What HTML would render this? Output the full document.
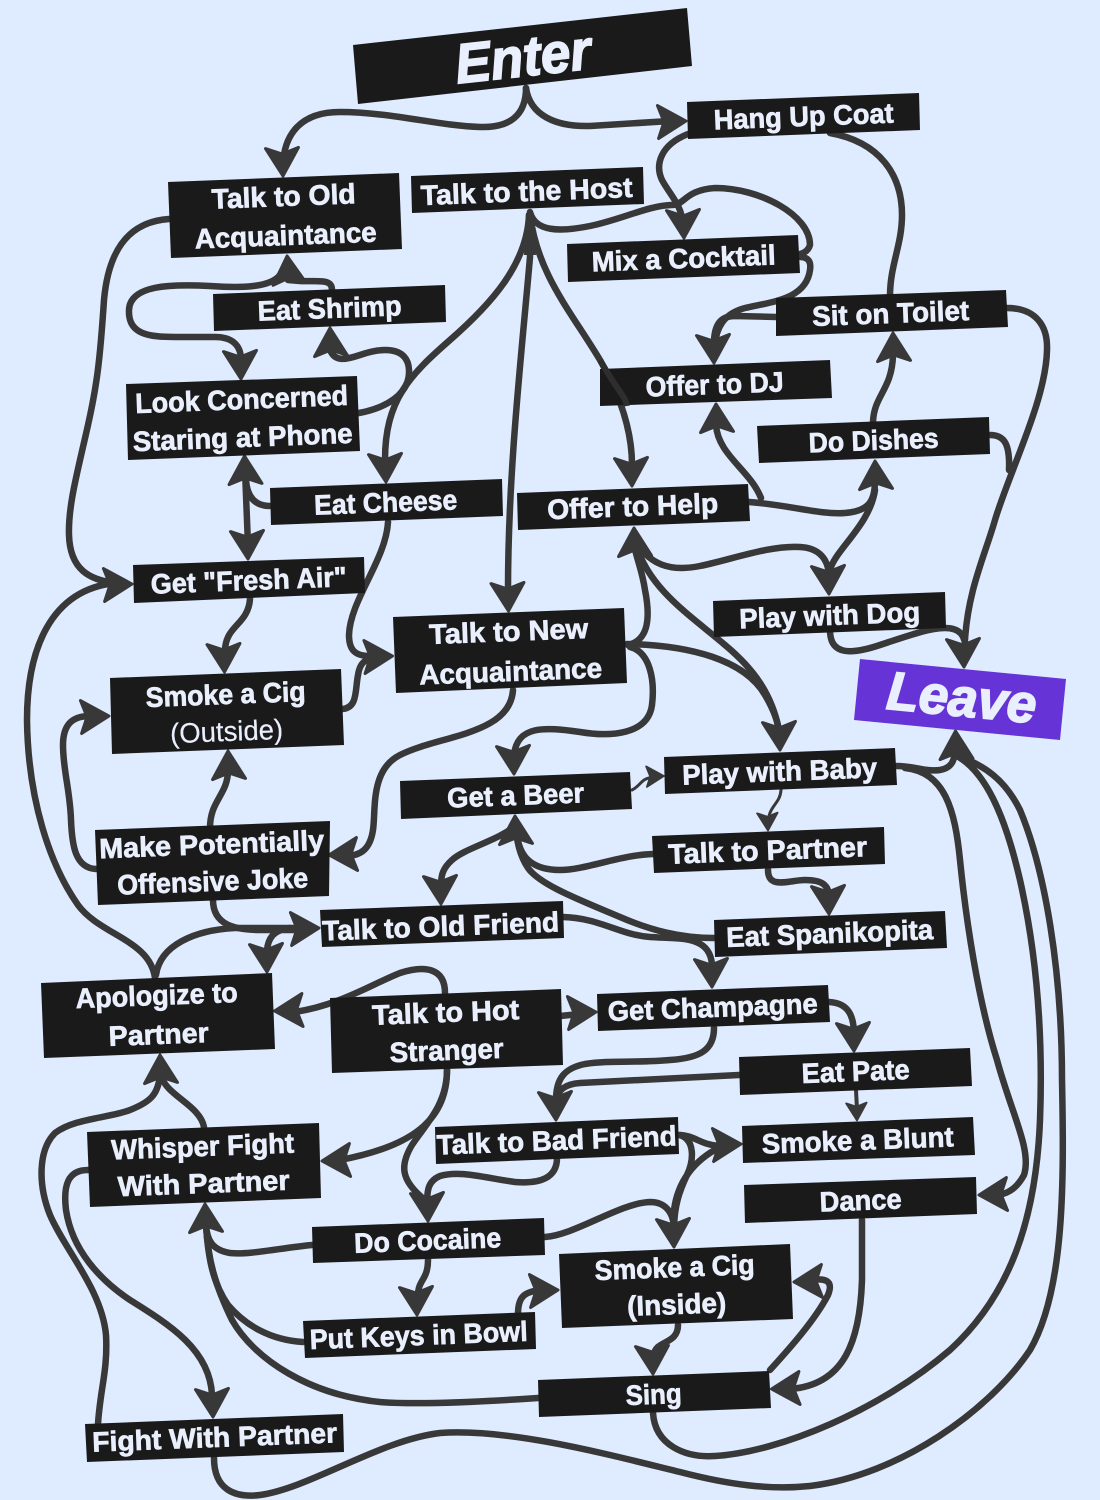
<!DOCTYPE html>
<html>
<head>
<meta charset="utf-8">
<title>Party flowchart</title>
<style>
html,body{margin:0;padding:0;background:#dfebff;}
svg{display:block;}
.e path{fill:none;stroke:#383838;stroke-width:6.5;stroke-linecap:round;stroke-linejoin:round;}
.e path.t{stroke-width:3;}
.h use{fill:#383838;stroke:#383838;stroke-width:3;stroke-linejoin:round;}
.b polygon{fill:#1a1a1a;}
.l text{font-family:"Liberation Sans",sans-serif;font-weight:700;font-size:28px;fill:#e9effc;stroke:#e9effc;stroke-width:.7px;text-anchor:middle;}
</style>
</head>
<body>
<svg xmlns="http://www.w3.org/2000/svg" width="1100" height="1500" viewBox="0 0 1100 1500">
<defs><polygon id="a" points="0,-1 -16.500,-29 0,-23 16.500,-29"/></defs>
<rect width="1100" height="1500" fill="#dfebff"/>

<g class="e">
<path d="M526 88C526 115 510 128 480 127C440 126 390 112 340 112C300 112 284 135 283 165"/>
<path d="M526 88C530 115 555 127 590 126L670 121"/>
<path d="M688 134C660 145 655 165 662 180C670 195 682 205 683 225"/>
<path d="M830 133C880 142 902 175 902 215C902 245 890 265 890 296"/>
<path d="M530 212C535 232 560 232 590 226C620 220 650 205 672 205C685 205 685 190 715 188C760 188 810 215 810 245Q808 252 800 254"/>
<path d="M800 257Q812 257 810 270C806 300 770 302 745 308C722 314 716 330 715 345"/>
<path d="M776 317L735 316C720 316 715 325 714 340"/>
<path d="M1007 308C1035 308 1048 325 1047 350C1046 400 1010 470 995 520C985 555 968 590 965 640"/>
<path d="M990 435C1005 435 1010 445 1009 470"/>
<path d="M873 422C874 395 892 390 893 355"/>
<path d="M749 502C790 505 820 515 845 513C870 511 875 500 875 480"/>
<path d="M761 498C750 470 718 455 716 425"/>
<path d="M875 490C870 525 835 550 830 570"/>
<path d="M634 540C650 565 670 572 700 566C730 560 770 545 800 547C820 548 828 560 829 575"/>
<path d="M529 215C527 265 490 305 450 340C410 375 385 400 385 460"/>
<path d="M530 215L530 257C522 350 508 470 508 590"/>
<path d="M530 215C538 275 570 310 600 360C620 395 632 430 632 465"/>
<path d="M169 219C125 222 108 255 104 300C100 360 97 385 88 425C78 470 68 505 69 535C70 570 90 580 115 583"/>
<path d="M155 978C150 940 100 935 78 905C50 865 28 800 27 720C27 650 50 590 115 583"/>
<path d="M156 975C160 945 195 930 235 928L295 928"/>
<path d="M213 900C213 925 235 930 260 930L295 930"/>
<path d="M290 928C272 930 268 940 267 950"/>
<path d="M210 828C210 800 228 795 228 770"/>
<path d="M96 869C75 868 72 845 71 820C70 790 63 770 63 745C63 722 75 716 90 716"/>
<path d="M250 599C248 625 226 625 225 650"/>
<path d="M359 413C385 408 410 395 409 370C408 345 380 348 360 355C345 360 335 362 330 350"/>
<path d="M332 290C332 278 318 282 300 281L288 280"/>
<path d="M280 275C270 288 240 288 210 286C170 284 130 285 129 310C128 335 150 337 175 337L215 337C232 337 241 345 241 360"/>
<path d="M245 470L248 545"/>
<path d="M270 506C255 506 247 497 246 480"/>
<path d="M388 522C386 560 350 600 349 635C349 650 355 656 370 656"/>
<path d="M342 709C358 708 355 690 358 675C360 662 365 660 375 657"/>
<path d="M513 690C510 735 440 735 400 755C370 770 376 810 373 830C370 850 360 856 345 856"/>
<path d="M628 645C650 640 650 615 645 590C642 570 637 560 634 545"/>
<path d="M630 647C650 652 655 680 652 705C648 735 610 737 580 732C545 727 517 725 514 755"/>
<path d="M627 644C690 645 745 660 765 695C775 712 779 725 779 735"/>
<path d="M636 545C650 590 690 615 725 645C755 670 772 695 779 730"/>
<path d="M830 630C830 655 850 655 880 645C910 635 930 628 945 628C960 628 965 635 966 650"/>
<path d="M896 766C915 766 925 772 940 770C952 768 955 760 955 748"/>
<path d="M905 768C945 772 955 810 960 860C966 920 978 1000 997 1060C1012 1115 1032 1150 1024 1175C1016 1190 1005 1195 995 1195"/>
<path d="M653 1413C655 1445 685 1458 715 1456C780 1452 880 1410 950 1350C1010 1295 1036 1220 1040 1120C1043 1040 1038 960 1020 880C1005 815 985 770 955 755"/>
<path d="M214 1458C214 1490 235 1498 260 1495C310 1488 380 1440 440 1433C510 1428 610 1455 680 1472C730 1485 770 1490 810 1486C900 1475 990 1410 1030 1350C1065 1290 1064 1180 1062 1080C1062 970 1045 870 1020 810C1005 780 985 765 955 755"/>
<path class="t" d="M781 790C780 805 768 805 768 825"/>
<path class="t" d="M632 790C642 785 640 778 655 777"/>
<path d="M653 854C620 855 585 870 560 870C535 870 520 860 517 835"/>
<path d="M714 938C680 938 650 930 620 917C580 900 540 885 528 868C520 856 516 840 516 825"/>
<path d="M516 825C500 840 465 848 452 860C443 868 441 875 441 885"/>
<path d="M563 917C600 918 620 935 650 937C680 939 710 935 712 965"/>
<path d="M768 870C768 890 790 880 805 880C822 880 828 885 829 895"/>
<path d="M445 993C445 968 425 965 400 973C370 985 340 1005 295 1012"/>
<path d="M560 1016L580 1014"/>
<path d="M829 1002C848 1003 854 1015 854 1035"/>
<path d="M714 1028C714 1050 700 1058 670 1060C640 1063 610 1060 585 1064C565 1068 556 1078 556 1100"/>
<path d="M739 1075L580 1083C565 1084 558 1090 556 1100"/>
<path class="t" style="stroke-width:4" d="M856 1090L857 1110"/>
<path d="M678 1135C695 1135 700 1145 720 1146"/>
<path d="M557 1158C557 1178 540 1184 515 1182C485 1178 460 1170 440 1176C428 1181 427 1190 427 1205"/>
<path d="M447 1070C447 1105 425 1125 412 1145C400 1165 400 1180 425 1200"/>
<path d="M447 1070C447 1115 420 1145 340 1160"/>
<path d="M204 1127C200 1105 165 1095 161 1075"/>
<path d="M98 1424C100 1390 108 1370 106 1335C102 1290 65 1250 50 1215C38 1185 38 1150 55 1133C75 1118 110 1118 130 1110C150 1102 158 1095 160 1075"/>
<path d="M88 1170C68 1170 63 1185 66 1210C72 1250 100 1280 130 1300C170 1325 210 1350 212 1395"/>
<path d="M312 1245C280 1248 250 1255 230 1253C212 1250 207 1240 206 1225"/>
<path d="M303 1342C270 1340 245 1325 228 1305C212 1282 208 1255 206 1225"/>
<path d="M538 1398C480 1402 420 1405 380 1402C310 1395 255 1360 232 1320C215 1285 208 1260 206 1225"/>
<path d="M428 1260C428 1280 418 1280 418 1295"/>
<path d="M518 1314C518 1296 525 1292 540 1290"/>
<path d="M545 1237C575 1235 620 1203 650 1202C665 1202 674 1212 674 1230"/>
<path d="M680 1135C695 1140 694 1160 687 1175C680 1190 674 1205 674 1230"/>
<path d="M674 1210C678 1180 695 1160 720 1147"/>
<path d="M678 1325C678 1345 655 1340 654 1355"/>
<path d="M770 1370C790 1348 815 1320 828 1295C834 1280 825 1278 810 1280"/>
<path d="M862 1220L862 1280C860 1340 845 1385 790 1389"/>
</g>
<polygon points="526,213 533,213 536,255 524,255" fill="#383838"/>

<g class="h">
<use href="#a" transform="translate(283,177) rotate(-2)"/>
<use href="#a" transform="translate(687,121) rotate(-92)"/>
<use href="#a" transform="translate(684,239) rotate(-2)"/>
<use href="#a" transform="translate(714,364) rotate(-2)"/>
<use href="#a" transform="translate(893,332) rotate(178)"/>
<use href="#a" transform="translate(875,460) rotate(178)"/>
<use href="#a" transform="translate(716,403) rotate(178)"/>
<use href="#a" transform="translate(829,595) rotate(-2)"/>
<use href="#a" transform="translate(634,527) rotate(178)"/>
<use href="#a" transform="translate(386,483) rotate(-2)"/>
<use href="#a" transform="translate(508.500,612) rotate(-2)"/>
<use href="#a" transform="translate(632,487) rotate(-2)"/>
<use href="#a" transform="translate(133,584) rotate(-92)"/>
<use href="#a" transform="translate(320,928) rotate(-92)"/>
<use href="#a" transform="translate(267,973) rotate(-2)"/>
<use href="#a" transform="translate(228,750) rotate(178)"/>
<use href="#a" transform="translate(110,716) rotate(-92)"/>
<use href="#a" transform="translate(224.500,673) rotate(-2)"/>
<use href="#a" transform="translate(330,327) rotate(178)"/>
<use href="#a" transform="translate(287,255) rotate(175)"/>
<use href="#a" transform="translate(241,380) rotate(-2)"/>
<use href="#a" transform="translate(244.500,455) rotate(178)"/>
<use href="#a" transform="translate(248,560) rotate(-2)"/>
<use href="#a" transform="translate(393.500,656) rotate(-92)"/>
<use href="#a" transform="translate(328,855) rotate(88)"/>
<use href="#a" transform="translate(514,775) rotate(-2)"/>
<use href="#a" transform="translate(780,751) rotate(-2)"/>
<use href="#a" transform="translate(964,668) rotate(-2)"/>
<use href="#a" transform="translate(955.500,730) rotate(178)"/>
<use href="#a" transform="translate(978,1195) rotate(88)"/>
<use href="#a" transform="translate(768,831) rotate(-2) scale(.62)"/>
<use href="#a" transform="translate(664.500,776) rotate(-92) scale(.62)"/>
<use href="#a" transform="translate(515,815) rotate(178)"/>
<use href="#a" transform="translate(441,905) rotate(-2)"/>
<use href="#a" transform="translate(712,988) rotate(-2)"/>
<use href="#a" transform="translate(829,915) rotate(-2)"/>
<use href="#a" transform="translate(273.500,1011) rotate(88)"/>
<use href="#a" transform="translate(597,1012) rotate(-92)"/>
<use href="#a" transform="translate(854,1052) rotate(-2)"/>
<use href="#a" transform="translate(556,1121) rotate(-2)"/>
<use href="#a" transform="translate(857,1121) rotate(-2) scale(.62)"/>
<use href="#a" transform="translate(742,1144) rotate(-92)"/>
<use href="#a" transform="translate(428,1222) rotate(-2)"/>
<use href="#a" transform="translate(321,1161) rotate(88)"/>
<use href="#a" transform="translate(160,1054) rotate(178)"/>
<use href="#a" transform="translate(213,1418) rotate(-2)"/>
<use href="#a" transform="translate(205,1203) rotate(178)"/>
<use href="#a" transform="translate(417,1316) rotate(-2)"/>
<use href="#a" transform="translate(559,1290) rotate(-92)"/>
<use href="#a" transform="translate(674,1248) rotate(-2)"/>
<use href="#a" transform="translate(653,1375) rotate(-2)"/>
<use href="#a" transform="translate(793,1282) rotate(88)"/>
<use href="#a" transform="translate(770.500,1389) rotate(88)"/>
</g>

<g class="b">
<polygon points="353,45 687,8 692,66 358,104"/>
<polygon points="168,182 399,173 402,249 171,258"/>
<polygon points="411,176 643,167 644,204 412,213"/>
<polygon points="687,102 919,93 920,130 688,139"/>
<polygon points="213,294 445,285 446,322 214,331"/>
<polygon points="567,244 798,235 800,273 568,282"/>
<polygon points="776,298 1006,290 1008,327 776,336"/>
<polygon points="126,384 357,376 360,451 128,460"/>
<polygon points="600,369 830,360 832,398 600,406"/>
<polygon points="757,426 989,417 990,454 759,463"/>
<polygon points="270,488 502,479 503,516 271,525"/>
<polygon points="517,493 748,484 750,521 518,530"/>
<polygon points="133,565 364,557 365,593 134,603"/>
<polygon points="713,601 945,592 946,628 714,637"/>
<polygon points="393,617 624,608 627,683 396,693"/>
<polygon points="110,678 341,669 344,745 112,754"/>
<polygon points="664,757 895,748 897,785 665,794"/>
<polygon points="400,781 630,772 632,809 401,819"/>
<polygon points="652,836 884,827 885,864 654,873"/>
<polygon points="95,830 330,821 329,896 98,905"/>
<polygon points="320,910 563,901 564,938 322,947"/>
<polygon points="714,920 945,911 947,948 715,957"/>
<polygon points="41,983 272,973 275,1049 44,1058"/>
<polygon points="330,998 561,989 563,1065 332,1073"/>
<polygon points="597,994 828,985 830,1022 598,1031"/>
<polygon points="739,1057 970,1048 972,1086 740,1095"/>
<polygon points="435,1127 678,1117 679,1154 436,1164"/>
<polygon points="742,1126 973,1117 975,1155 743,1163"/>
<polygon points="744,1185 976,1177 977,1214 745,1223"/>
<polygon points="87,1132 319,1123 321,1198 90,1207"/>
<polygon points="312,1227 544,1218 545,1255 313,1263"/>
<polygon points="559,1254 790,1244 793,1319 562,1328"/>
<polygon points="303,1321 535,1312 536,1349 305,1358"/>
<polygon points="538,1380 769,1371 771,1408 539,1417"/>
<polygon points="85,1424 343,1414 344,1452 87,1462"/>
<polygon points="860,659 1066,679 1060,740 854,720" style="fill:#6633d6"/>
</g>
<path d="M600 360C620 395 625 395 627 406" fill="none" stroke="#2e2e2e" stroke-width="6"/>

<g class="l">
<text transform="translate(525,76) rotate(-6.300)" textLength="136" lengthAdjust="spacingAndGlyphs" style="font-style:italic;font-size:56px;stroke-width:1.6px">Enter</text>
<text transform="translate(960,716) rotate(5.500)" textLength="150" lengthAdjust="spacingAndGlyphs" style="font-style:italic;font-size:54px;stroke-width:1.6px">Leave</text>

<text transform="translate(284,206) rotate(-2.200)" textLength="144" lengthAdjust="spacingAndGlyphs">Talk to Old</text>
<text transform="translate(286,245) rotate(-2.200)" textLength="182" lengthAdjust="spacingAndGlyphs">Acquaintance</text>
<text transform="translate(527,201) rotate(-2.200)" textLength="212" lengthAdjust="spacingAndGlyphs">Talk to the Host</text>
<text transform="translate(804,126) rotate(-2.200)" textLength="180" lengthAdjust="spacingAndGlyphs">Hang Up Coat</text>
<text transform="translate(330,318) rotate(-2.200)" textLength="144" lengthAdjust="spacingAndGlyphs">Eat Shrimp</text>
<text transform="translate(684,268) rotate(-2.200)" textLength="184" lengthAdjust="spacingAndGlyphs">Mix a Cocktail</text>
<text transform="translate(891,323) rotate(-2.200)" textLength="157" lengthAdjust="spacingAndGlyphs">Sit on Toilet</text>
<text transform="translate(242,409) rotate(-2.200)" textLength="213" lengthAdjust="spacingAndGlyphs">Look Concerned</text>
<text transform="translate(243,447) rotate(-2.200)" textLength="220" lengthAdjust="spacingAndGlyphs">Staring at Phone</text>
<text transform="translate(715,394) rotate(-2.200)" textLength="138" lengthAdjust="spacingAndGlyphs">Offer to DJ</text>
<text transform="translate(874,450) rotate(-2.200)" textLength="130" lengthAdjust="spacingAndGlyphs">Do Dishes</text>
<text transform="translate(386,512) rotate(-2.200)" textLength="143" lengthAdjust="spacingAndGlyphs">Eat Cheese</text>
<text transform="translate(633,516) rotate(-2.200)" textLength="171" lengthAdjust="spacingAndGlyphs">Offer to Help</text>
<text transform="translate(249,590) rotate(-2.200)" textLength="196" lengthAdjust="spacingAndGlyphs">Get "Fresh Air"</text>
<text transform="translate(830,625) rotate(-2.200)" textLength="181" lengthAdjust="spacingAndGlyphs">Play with Dog</text>
<text transform="translate(509,641) rotate(-2.200)" textLength="159" lengthAdjust="spacingAndGlyphs">Talk to New</text>
<text transform="translate(511,681) rotate(-2.200)" textLength="183" lengthAdjust="spacingAndGlyphs">Acquaintance</text>
<text transform="translate(226,704) rotate(-2.200)" textLength="160" lengthAdjust="spacingAndGlyphs">Smoke a Cig</text>
<text transform="translate(227,741) rotate(-2.200)" textLength="113" lengthAdjust="spacingAndGlyphs" style="font-weight:400;stroke-width:.2px">(Outside)</text>
<text transform="translate(780,781) rotate(-2.200)" textLength="195" lengthAdjust="spacingAndGlyphs">Play with Baby</text>
<text transform="translate(516,805) rotate(-2.200)" textLength="137" lengthAdjust="spacingAndGlyphs">Get a Beer</text>
<text transform="translate(768,860) rotate(-2.200)" textLength="199" lengthAdjust="spacingAndGlyphs">Talk to Partner</text>
<text transform="translate(212,854) rotate(-2.200)" textLength="225" lengthAdjust="spacingAndGlyphs">Make Potentially</text>
<text transform="translate(213,891) rotate(-2.200)" textLength="191" lengthAdjust="spacingAndGlyphs">Offensive Joke</text>
<text transform="translate(441,936) rotate(-2.200)" textLength="237" lengthAdjust="spacingAndGlyphs">Talk to Old Friend</text>
<text transform="translate(830,943) rotate(-2.200)" textLength="207" lengthAdjust="spacingAndGlyphs">Eat Spanikopita</text>
<text transform="translate(157,1005) rotate(-2.200)" textLength="162" lengthAdjust="spacingAndGlyphs">Apologize to</text>
<text transform="translate(159,1044) rotate(-2.200)" textLength="100" lengthAdjust="spacingAndGlyphs">Partner</text>
<text transform="translate(446,1022) rotate(-2.200)" textLength="147" lengthAdjust="spacingAndGlyphs">Talk to Hot</text>
<text transform="translate(447,1060) rotate(-2.200)" textLength="114" lengthAdjust="spacingAndGlyphs">Stranger</text>
<text transform="translate(713,1017) rotate(-2.200)" textLength="210" lengthAdjust="spacingAndGlyphs">Get Champagne</text>
<text transform="translate(856,1081) rotate(-2.200)" textLength="108" lengthAdjust="spacingAndGlyphs">Eat Pate</text>
<text transform="translate(557,1150) rotate(-2.200)" textLength="240" lengthAdjust="spacingAndGlyphs">Talk to Bad Friend</text>
<text transform="translate(858,1150) rotate(-2.200)" textLength="192" lengthAdjust="spacingAndGlyphs">Smoke a Blunt</text>
<text transform="translate(861,1210) rotate(-2.200)" textLength="82" lengthAdjust="spacingAndGlyphs">Dance</text>
<text transform="translate(203,1156) rotate(-2.200)" textLength="183" lengthAdjust="spacingAndGlyphs">Whisper Fight</text>
<text transform="translate(204,1193) rotate(-2.200)" textLength="172" lengthAdjust="spacingAndGlyphs">With Partner</text>
<text transform="translate(428,1250) rotate(-2.200)" textLength="147" lengthAdjust="spacingAndGlyphs">Do Cocaine</text>
<text transform="translate(675,1277) rotate(-2.200)" textLength="160" lengthAdjust="spacingAndGlyphs">Smoke a Cig</text>
<text transform="translate(677,1314) rotate(-2.200)" textLength="99" lengthAdjust="spacingAndGlyphs">(Inside)</text>
<text transform="translate(419,1345) rotate(-2.200)" textLength="218" lengthAdjust="spacingAndGlyphs">Put Keys in Bowl</text>
<text transform="translate(654,1404) rotate(-2.200)" textLength="56" lengthAdjust="spacingAndGlyphs">Sing</text>
<text transform="translate(215,1447) rotate(-2.200)" textLength="245" lengthAdjust="spacingAndGlyphs">Fight With Partner</text>
</g>
</svg>
</body>
</html>
